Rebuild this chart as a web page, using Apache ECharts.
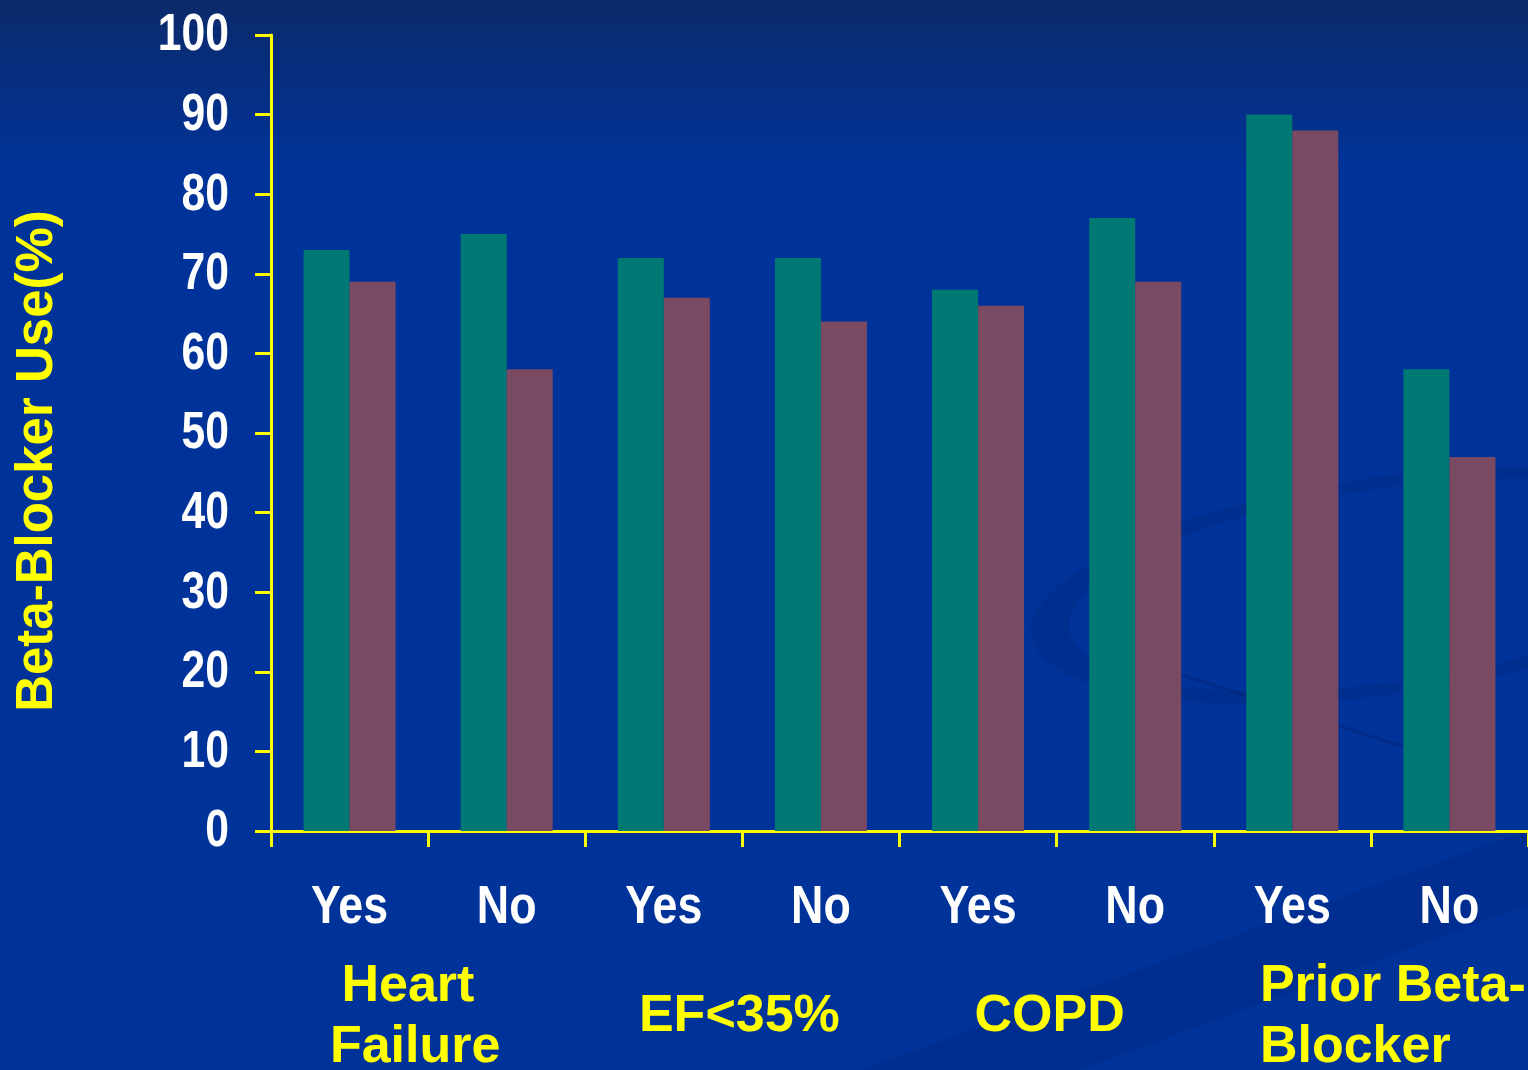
<!DOCTYPE html>
<html>
<head>
<meta charset="utf-8">
<title>Beta-Blocker Use</title>
<script src="https://cdn.jsdelivr.net/npm/echarts@6/dist/echarts.min.js"></script>
<style>
  html, body { margin: 0; padding: 0; background: #003399; }
  #chart { width: 1528px; height: 1070px; }
</style>
</head>
<body>
<div id="chart"></div>
<script>
// Subgroup categories along the x axis (two per clinical characteristic)
const categories = ['Yes', 'No', 'Yes', 'No', 'Yes', 'No', 'Yes', 'No'];
// Characteristic labels, one per pair of categories
const groupLabels = ['Heart \nFailure', 'EF<35%', 'COPD', 'Prior Beta-\nBlocker'];
// Beta-blocker use (%) for the two compared cohorts
const cohortA = [73, 75, 72, 72, 68, 77, 90, 58];
const cohortB = [69, 58, 67, 64, 66, 69, 88, 47];
// Value axis range and its tick labels
const yMin = 0, yMax = 100, yStep = 10;
const yTickLabels = ['0', '10', '20', '30', '40', '50', '60', '70', '80', '90', '100'];

const YELLOW = '#ffff00';
const SANS = "'Liberation Sans', Arial, Helvetica, sans-serif";
// tick labels use a condensed bold face: regular bold squeezed horizontally
const Y_FONT = 'bold 52px ' + SANS;
const X_FONT = 'bold 53px ' + SANS;
const Y_SCALE = 0.82;
const X_SCALE = 0.845;

const chart = echarts.init(document.getElementById('chart'), null, { renderer: 'canvas' });

// faint swirl decoration in the backdrop
const backdrop = [
  {
    type: 'ring', z: -10, silent: true,
    x: 1390, y: 585, scaleY: 0.3, rotation: 0.14,
    shape: { cx: 0, cy: 0, r: 362, r0: 324 },
    style: { fill: 'rgba(0, 30, 110, 0.25)' }
  },
  {
    type: 'line', z: -10, silent: true,
    shape: { x1: 1120, y1: 655, x2: 1420, y2: 752 },
    style: { stroke: 'rgba(0, 30, 110, 0.35)', lineWidth: 3 }
  },
  {
    type: 'polygon', z: -10, silent: true,
    shape: { points: [[860, 1070], [1528, 830], [1528, 905], [1080, 1070]] },
    style: { fill: 'rgba(0, 30, 110, 0.2)' }
  }
];

chart.setOption({
  backgroundColor: {
    type: 'linear', x: 0, y: 0, x2: 0, y2: 1,
    colorStops: [
      { offset: 0, color: '#0b2a6a' },
      { offset: 0.16, color: '#003399' },
      { offset: 1, color: '#003399' }
    ]
  },
  animation: false,
  grid: { left: 271, right: -1, top: 35, bottom: 239, containLabel: false },
  xAxis: {
    type: 'category',
    data: categories,
    axisLine: { lineStyle: { color: YELLOW, width: 3 } },
    axisTick: { show: true, length: 16, lineStyle: { color: YELLOW, width: 3 } },
    axisLabel: { show: false },
    splitLine: { show: false }
  },
  yAxis: {
    type: 'value',
    min: yMin, max: yMax, interval: yStep,
    name: 'Beta-Blocker Use(%)',
    nameLocation: 'middle',
    nameGap: 208,
    nameRotate: 90,
    nameTextStyle: {
      color: YELLOW, fontFamily: SANS, fontWeight: 'bold', fontSize: 51,
      padding: [0, 56, 0, 0]
    },
    axisLine: { show: true, lineStyle: { color: YELLOW, width: 3 } },
    axisTick: { show: true, length: 16, lineStyle: { color: YELLOW, width: 3 } },
    axisLabel: { show: false },
    splitLine: { show: false }
  },
  series: [
    {
      name: 'Cohort A', type: 'bar', data: cohortA,
      barWidth: 46, barGap: '0%',
      itemStyle: { color: '#007873' }
    },
    {
      name: 'Cohort B', type: 'bar', data: cohortB,
      barWidth: 46, barGap: '0%',
      itemStyle: { color: '#7a4a62' }
    }
  ],
  graphic: backdrop
});

// Value tick labels, placed at each tick through the y axis scale
const yLabelEls = yTickLabels.map(function (t) {
  const py = chart.convertToPixel({ yAxisIndex: 0 }, Number(t));
  return {
    type: 'text', silent: true, z: 10,
    x: 229, y: py + 1, scaleX: Y_SCALE,
    style: { text: t, fill: '#ffffff', font: Y_FONT, align: 'right', verticalAlign: 'middle' }
  };
});

// Yes / No labels under each category
const xLabelEls = categories.map(function (c, i) {
  const px = chart.convertToPixel({ xAxisIndex: 0 }, i);
  return {
    type: 'text', silent: true, z: 10,
    x: px, y: 908, scaleX: X_SCALE,
    style: { text: c, fill: '#ffffff', font: X_FONT, align: 'center', verticalAlign: 'middle' }
  };
});

// Characteristic labels sit beneath the middle of each Yes/No pair
const nudges = [-13, -3, -7, -111];
const aligns = ['center', 'center', 'center', 'left'];
const groupEls = groupLabels.map(function (text, i) {
  const x0 = chart.convertToPixel({ xAxisIndex: 0 }, i * 2);
  const x1 = chart.convertToPixel({ xAxisIndex: 0 }, i * 2 + 1);
  return {
    type: 'text', silent: true, z: 10,
    x: (x0 + x1) / 2 + nudges[i], y: 1017,
    style: {
      text: text, fill: YELLOW, font: 'bold 52px ' + SANS,
      align: aligns[i], verticalAlign: 'middle', lineHeight: 61
    }
  };
});

chart.setOption({ graphic: backdrop.concat(yLabelEls, xLabelEls, groupEls) });
</script>
</body>
</html>
